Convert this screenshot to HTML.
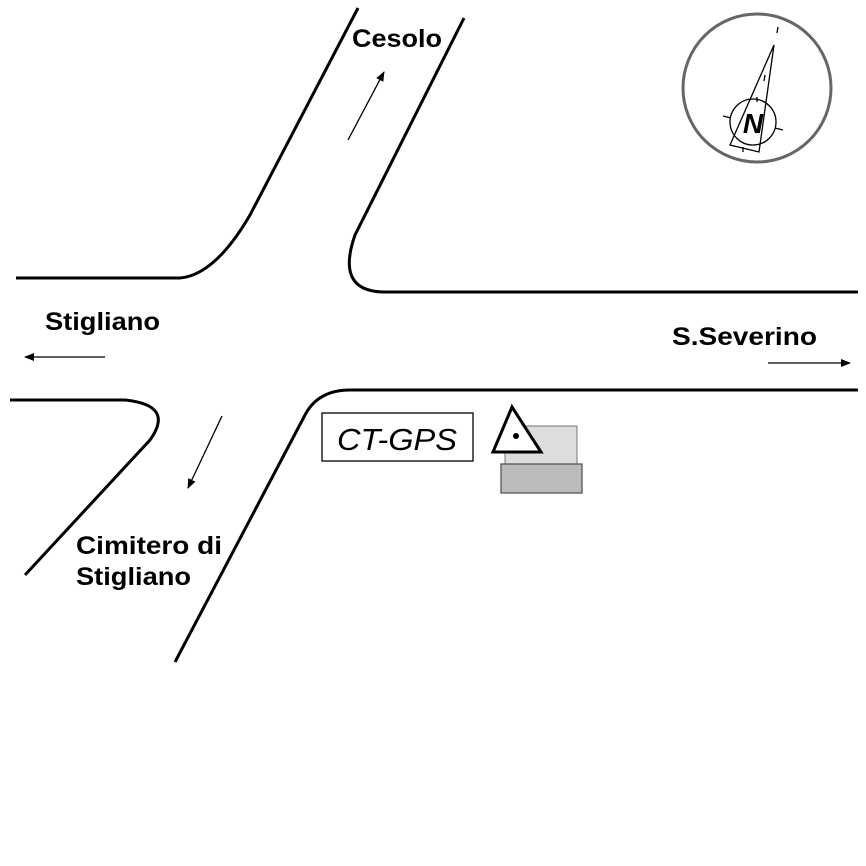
<!DOCTYPE html>
<html><head><style>body{margin:0;background:#fff}svg{display:block}</style></head>
<body>
<svg width="866" height="866" viewBox="0 0 866 866" xmlns="http://www.w3.org/2000/svg" font-family="Liberation Sans, Arial, sans-serif">
<defs><marker id="a" markerWidth="10" markerHeight="8" refX="9" refY="4" orient="auto" markerUnits="userSpaceOnUse"><path d="M0,0 L10,4 L0,8 z" fill="#000"/></marker></defs>
<g fill="none" stroke="#000" stroke-width="3">
<path d="M16,278 L180,278 Q215,275 250,215 L358,8"/>
<path d="M464,18 L355,235 Q335,292 385,292 L858,292"/>
<path d="M10,400 L125,400 Q175,405 150,440 L25,575"/>
<path d="M858,390 L350,390 Q318,390 305,415 L175,662"/>
</g>
<g stroke="#000" stroke-width="1.3" marker-end="url(#a)">
<line x1="348" y1="140" x2="384" y2="72"/>
<line x1="105" y1="357" x2="25" y2="357"/>
<line x1="768" y1="363" x2="850" y2="363"/>
<line x1="222" y1="416" x2="188" y2="488"/>
</g>
<g font-weight="bold" font-size="25" fill="#000">
<text x="352" y="47" textLength="90" lengthAdjust="spacingAndGlyphs">Cesolo</text>
<text x="45" y="330" textLength="115" lengthAdjust="spacingAndGlyphs">Stigliano</text>
<text x="672" y="345" textLength="145" lengthAdjust="spacingAndGlyphs">S.Severino</text>
<text x="76" y="554" textLength="146" lengthAdjust="spacingAndGlyphs">Cimitero di</text>
<text x="76" y="585" textLength="115" lengthAdjust="spacingAndGlyphs">Stigliano</text>
</g>
<rect x="322" y="413" width="151" height="48" fill="#fff" stroke="#000" stroke-width="1.3"/>
<text x="397" y="450" font-size="31" font-style="italic" text-anchor="middle" textLength="120" lengthAdjust="spacingAndGlyphs">CT-GPS</text>
<rect x="505" y="426" width="72" height="40" fill="#ddd" stroke="#777" stroke-width="1"/>
<rect x="501" y="464" width="81" height="29" fill="#bbb" stroke="#555" stroke-width="1.3"/>
<path d="M512,407 L541,452 L493,452 Z" fill="#fff" stroke="#000" stroke-width="3"/>
<circle cx="516" cy="436" r="3" fill="#000"/>
<circle cx="757" cy="88" r="74" fill="none" stroke="#666" stroke-width="3"/>
<g stroke="#000" stroke-width="1.3" fill="none">
<path d="M774,45 L730,145 L759,152 Z"/>
<circle cx="753" cy="122" r="23"/>
<line x1="778" y1="27" x2="777" y2="33"/>
<line x1="765" y1="75" x2="764" y2="81"/>
<line x1="723" y1="116" x2="731" y2="118"/>
<line x1="775" y1="128" x2="783" y2="130"/>
<line x1="757" y1="97" x2="757" y2="102"/>
<line x1="743" y1="147" x2="743" y2="152"/>
</g>
<text x="753" y="133" font-size="28" font-weight="bold" font-style="italic" text-anchor="middle">N</text>
</svg>
</body></html>
